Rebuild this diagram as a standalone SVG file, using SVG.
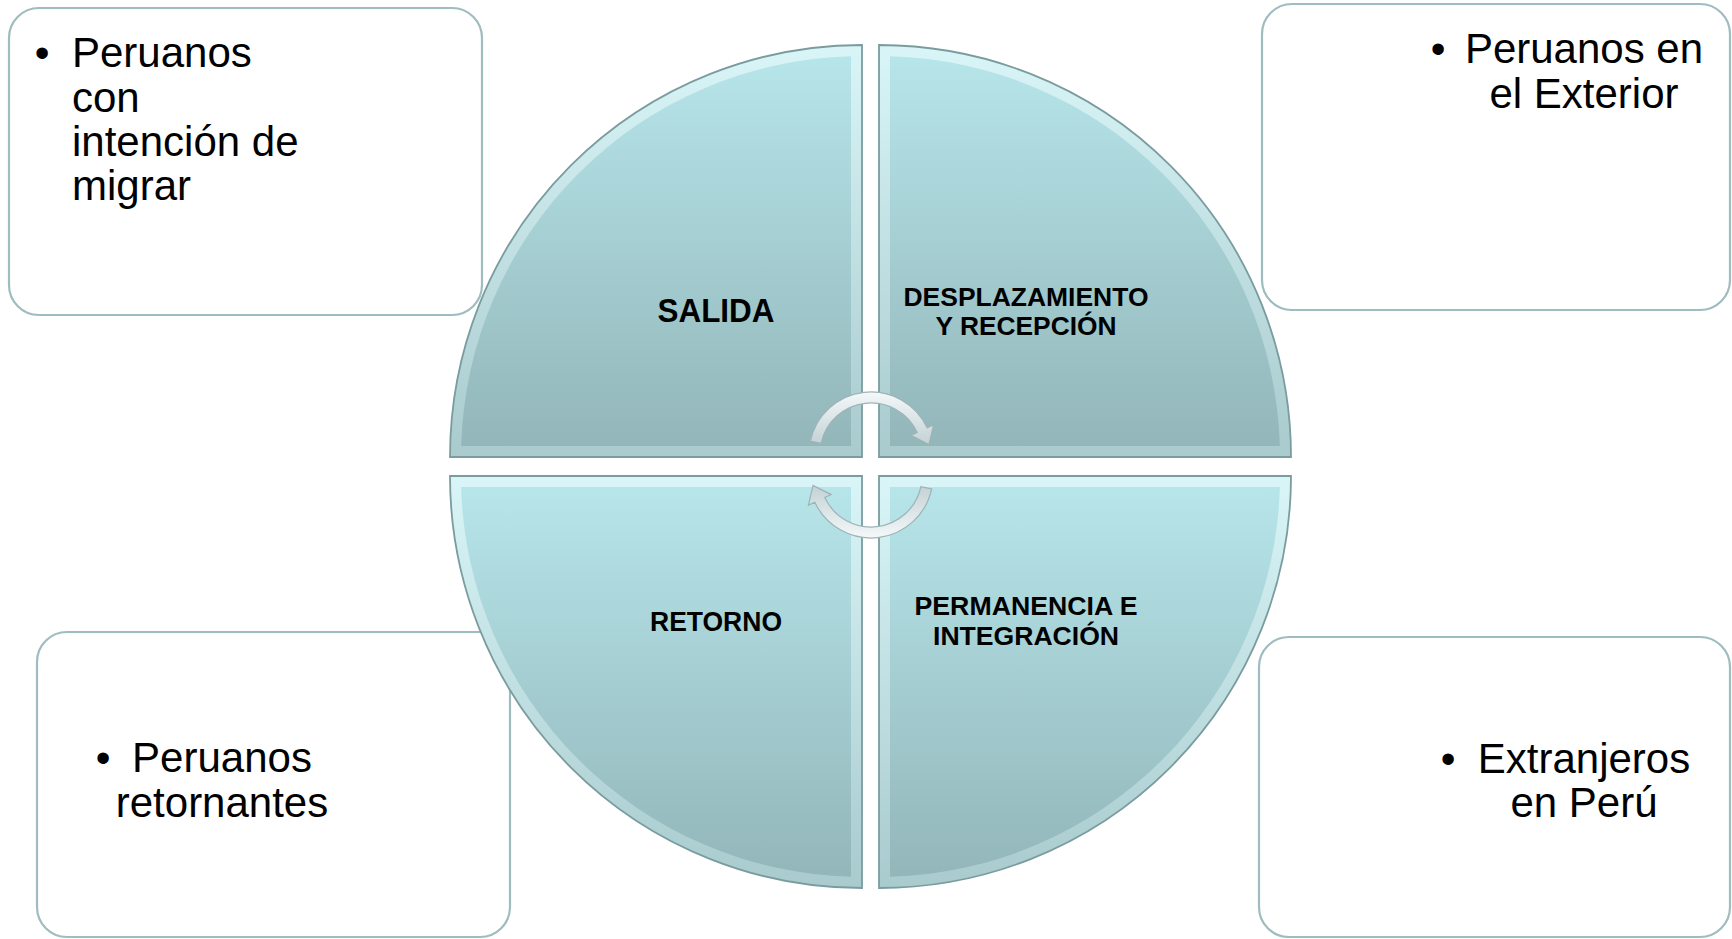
<svg xmlns="http://www.w3.org/2000/svg" width="1732" height="939" viewBox="0 0 1732 939">
<defs>
<linearGradient id="gMain" x1="0" y1="0" x2="0" y2="1">
<stop offset="0" stop-color="#b6e5ea"/>
<stop offset="1" stop-color="#93b6b9"/>
</linearGradient>
<linearGradient id="gBevel" x1="0" y1="0" x2="0" y2="1">
<stop offset="0" stop-color="#d9f5f7"/>
<stop offset="1" stop-color="#a9cbce"/>
</linearGradient>
<linearGradient id="gArrow" x1="0" y1="0" x2="0" y2="1">
<stop offset="0" stop-color="#f4f8f9"/>
<stop offset="1" stop-color="#c3d2d5"/>
</linearGradient>
<style>
.box{fill:#ffffff;stroke:#9fbcbf;stroke-width:2.2}
.bt{font-family:"Liberation Sans",Arial,sans-serif;font-size:42px;fill:#000}
.qo{fill:url(#gBevel);stroke:#7a9c9f;stroke-width:1.8}
.qi{fill:url(#gMain)}
.qt{font-family:"Liberation Sans",Arial,sans-serif;font-weight:bold;fill:#000;text-anchor:middle}
.arr{fill:url(#gArrow);stroke:#9eb3b6;stroke-width:1.2}
</style>
</defs>
<rect width="1732" height="939" fill="#ffffff"/>

<g id="box-intencion">
<rect class="box" x="9" y="8" width="473" height="307" rx="30"/>
<text class="bt" x="42" y="67" text-anchor="middle">•</text>
<text class="bt" x="72" y="67">Peruanos</text>
<text class="bt" x="72" y="112">con</text>
<text class="bt" x="72" y="156">intención de</text>
<text class="bt" x="72" y="200">migrar</text>
</g>

<g id="box-exterior">
<rect class="box" x="1262" y="4" width="468" height="306" rx="30"/>
<text class="bt" x="1438" y="63" text-anchor="middle">•</text>
<text class="bt" x="1584" y="63" text-anchor="middle">Peruanos en</text>
<text class="bt" x="1584" y="108" text-anchor="middle">el Exterior</text>
</g>

<g id="box-retornantes">
<rect class="box" x="37" y="632" width="473" height="305" rx="30"/>
<text class="bt" x="103" y="772" text-anchor="middle">•</text>
<text class="bt" x="222" y="772" text-anchor="middle">Peruanos</text>
<text class="bt" x="222" y="817" text-anchor="middle">retornantes</text>
</g>

<g id="box-extranjeros">
<rect class="box" x="1259" y="637" width="471" height="300" rx="30"/>
<text class="bt" x="1448" y="773" text-anchor="middle">•</text>
<text class="bt" x="1584" y="773" text-anchor="middle">Extranjeros</text>
<text class="bt" x="1584" y="817" text-anchor="middle">en Perú</text>
</g>

<g id="q-salida">
<path class="qo" d="M862,457 L450,457 A412,412 0 0 1 862,45 Z"/>
<path class="qi" d="M851,446 L461.15,446 A401,401 0 0 1 851,56.15 Z"/>
<text class="qt" x="716" y="322" font-size="33" textLength="117" lengthAdjust="spacingAndGlyphs">SALIDA</text>
</g>

<g id="q-desplazamiento">
<path class="qo" d="M879,457 L879,45 A412,412 0 0 1 1291,457 Z"/>
<path class="qi" d="M890,446 L890,56.15 A401,401 0 0 1 1279.85,446 Z"/>
<text class="qt" x="1026" y="306" font-size="26" textLength="245" lengthAdjust="spacingAndGlyphs">DESPLAZAMIENTO</text>
<text class="qt" x="1026" y="335" font-size="26" textLength="181" lengthAdjust="spacingAndGlyphs">Y RECEPCIÓN</text>
</g>

<g id="q-retorno">
<path class="qo" d="M862,476 L862,888 A412,412 0 0 1 450,476 Z"/>
<path class="qi" d="M851,487 L851,876.85 A401,401 0 0 1 461.15,487 Z"/>
<text class="qt" x="716" y="631" font-size="27" textLength="132" lengthAdjust="spacingAndGlyphs">RETORNO</text>
</g>

<g id="q-permanencia">
<path class="qo" d="M879,476 L1291,476 A412,412 0 0 1 879,888 Z"/>
<path class="qi" d="M890,487 L1279.85,487 A401,401 0 0 1 890,876.85 Z"/>
<text class="qt" x="1026" y="615" font-size="26" textLength="223" lengthAdjust="spacingAndGlyphs">PERMANENCIA E</text>
<text class="qt" x="1026" y="645" font-size="26" textLength="186" lengthAdjust="spacingAndGlyphs">INTEGRACIÓN</text>
</g>

<g id="connectors">
<path class="arr" d="M810.35,441.1 A62,62 0 0 1 927.19,427.8 L933.54,424.84 L928.97,444.62 L910.88,435.4 L917.22,432.45 A51,51 0 0 0 821.1,443.4 Z"/>
<path class="arr" transform="rotate(180 871 465)" d="M810.35,441.1 A62,62 0 0 1 927.19,427.8 L933.54,424.84 L928.97,444.62 L910.88,435.4 L917.22,432.45 A51,51 0 0 0 821.1,443.4 Z"/>
</g>
</svg>
